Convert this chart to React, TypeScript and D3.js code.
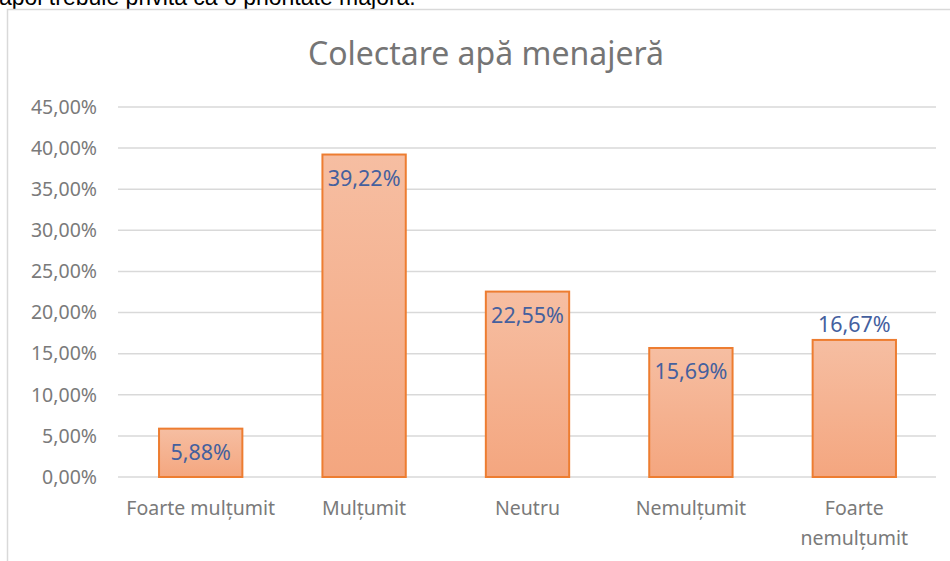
import React from "react";
import { scaleBand, scaleLinear, range } from "d3";

const categories = ["Foarte mulțumit", "Mulțumit", "Neutru", "Nemulțumit", "Foarte nemulțumit"];
const labelLines = [["Foarte mulțumit"], ["Mulțumit"], ["Neutru"], ["Nemulțumit"], ["Foarte", "nemulțumit"]];
const values = [5.88, 39.22, 22.55, 15.69, 16.67];
const valueLabels = ["5,88%", "39,22%", "22,55%", "15,69%", "16,67%"];
const labelOutside = [false, false, false, false, true];
const yTicks = range(0, 46, 5);

const App = () => {
  const width = 950;
  const height = 561;
  const font = "'Noto Sans', 'Open Sans', sans-serif";

  const xScale = scaleBand<string>()
    .domain(categories)
    .range([119, 936])
    .paddingInner(0.49)
    .paddingOuter(0.245);

  const yScale = scaleLinear().domain([0, 45]).range([477, 107]);

  const fmt = (t: number) => t.toFixed(2).replace(".", ",") + "%";

  return (
    <svg
      width={width}
      height={height}
      style={{ position: "absolute", left: 0, top: 0, background: "white" }}
      fontFamily={font}
    >
      <defs>
        <linearGradient id="barGrad" x1="0" y1="0" x2="0" y2="1">
          <stop offset="0" stopColor="#F6BEA2" />
          <stop offset="1" stopColor="#F4A67F" />
        </linearGradient>
      </defs>

      {/* cut-off line of document text above the chart */}
      <text x={-1} y={5} fontSize={23} fill="#000" fontFamily="'Liberation Sans', sans-serif">
        apoi trebuie privită ca o prioritate majoră.
      </text>

      {/* chart frame */}
      <rect x={7.5} y={9.5} width={960} height={570} fill="white" stroke="#D9D9D9" strokeWidth={1.5} />

      <text x={486} y={65} textAnchor="middle" fontSize={32} fill="#757575">
        Colectare  apă menajeră
      </text>

      {yTicks.map((t) => (
        <g key={t}>
          <line x1={118} x2={936} y1={yScale(t)} y2={yScale(t)} stroke="#D9D9D9" strokeWidth={1.5} />
          <text x={97} y={yScale(t)} dy="0.35em" textAnchor="end" fontSize={19.5} fill="#7A7A7A">
            {fmt(t)}
          </text>
        </g>
      ))}

      {categories.map((c, i) => {
        const x = xScale(c)!;
        const w = xScale.bandwidth();
        const top = yScale(values[i]);
        return (
          <g key={c}>
            <rect
              x={x}
              y={top}
              width={w}
              height={yScale(0) - top}
              fill="url(#barGrad)"
              stroke="#ED7D31"
              strokeWidth={2}
            />
            <text
              x={x + w / 2}
              y={labelOutside[i] ? top - 8 : top + 31}
              textAnchor="middle"
              fontSize={21.5}
              fill="#44609E"
            >
              {valueLabels[i]}
            </text>
            {labelLines[i].map((l, j) => (
              <text
                key={l}
                x={x + w / 2}
                y={515 + j * 30}
                textAnchor="middle"
                fontSize={19.5}
                fill="#7A7A7A"
              >
                {l}
              </text>
            ))}
          </g>
        );
      })}
    </svg>
  );
};

export default App;
